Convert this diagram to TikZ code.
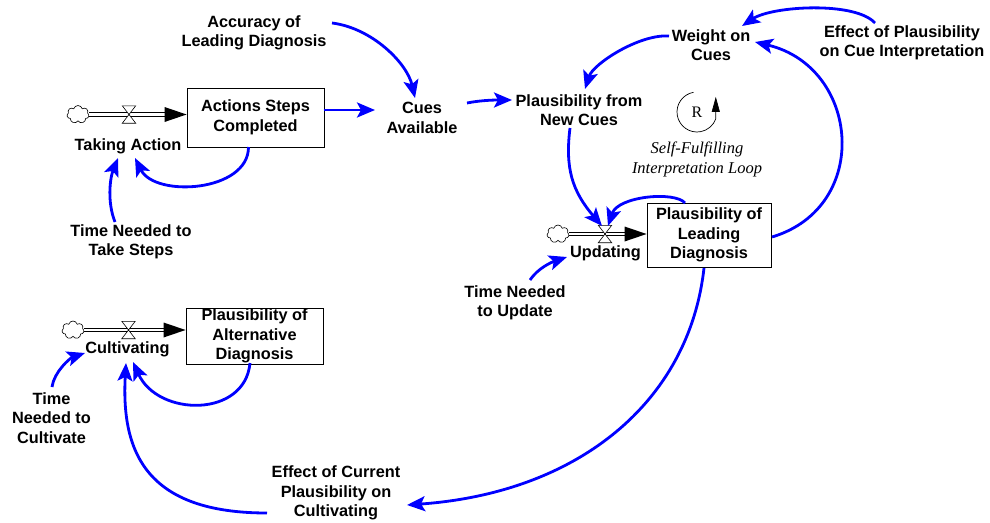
\documentclass[tikz,border=0pt]{standalone}
\usepackage{fontspec}
\setmainfont{Liberation Sans}
\newfontfamily\loopfont{Liberation Serif}
\usetikzlibrary{calc,arrows.meta,shapes.symbols}

\begin{document}
\begin{tikzpicture}[x=1pt, y=-1pt,
    aux/.style={font=\fontsize{16.3}{19.5}\selectfont\bfseries, align=center, inner sep=1pt},
    stock/.style={aux, draw, line width=0.9pt, inner sep=0pt},
    link/.style={blue, line width=2.8pt, -{Stealth[length=18pt,width=15pt,inset=4pt]}},
    pipe/.style={double=white, double distance=2.6pt, line width=0.8pt},
    cloudy/.style={cloud, cloud puffs=7, draw=black, line width=0.6pt, fill=white, minimum width=22pt,
        minimum height=18pt, inner sep=0pt, aspect=1.3},
    valve/.style={minimum width=13pt, minimum height=17pt, inner sep=0pt}]
    \useasboundingbox (0,0) rectangle (990,522);

    % stocks and flows
    \node[stock, minimum width=137pt, minimum height=59pt] (acts) at (255.5,117.5) {Actions Steps\\Completed};
    \node[stock, minimum width=124pt, minimum height=64pt] (lead) at (709,235) {Plausibility of\\Leading\\Diagnosis};
    \node[stock, minimum width=137pt, minimum height=56pt] (alt) at (254.5,336) {Plausibility of\\Alternative\\Diagnosis};
    \node[cloudy] (c1) at (78,114.5) {};
    \node[cloudy] (c2) at (558,234) {};
    \node[cloudy] (c3) at (73,330) {};
    \node[valve] (v1) at (129,114.5) {};
    \node[valve] (v2) at (605,234) {};
    \node[valve] (v3) at (128.5,330) {};
    \foreach \c/\v/\s in {c1/v1/acts, c2/v2/lead, c3/v3/alt} {
        \draw[pipe] (\c.east) -- ($(\c.east -| \s.west)+(-20,0)$);
        \fill ($(\c.east -| \s.west)+(-22,-7.5)$) -- (\c.east -| \s.west)
            -- ($(\c.east -| \s.west)+(-22,7.5)$) -- cycle;
        \draw[fill=white, line width=0.6pt] (\v.north west) -- (\v.north east)
            -- (\v.south west) -- (\v.south east) -- cycle;
    }
    \node[aux] (takeact) at (128,146) {Taking Action};
    \node[aux] (upd) at (605.5,253) {Updating};
    \node[aux] (cult) at (127.5,349) {Cultivating};

    % auxiliaries
    \node[aux] (acc) at (254,33) {Accuracy of\\Leading Diagnosis};
    \node[aux] (cues) at (422,118) {Cues\\Available};
    \node[aux] (pnew) at (579,110) {Plausibility from\\New Cues};
    \node[aux] (weight) at (711,45) {Weight on\\Cues};
    \node[aux] (effcue) at (902,43) {Effect of Plausibility\\on Cue Interpretation};
    \node[aux] (tsteps) at (131,242) {Time Needed to\\Take Steps};
    \node[aux] (tupd) at (515,303) {Time Needed\\to Update};
    \node[aux] (tcult) at (51.5,418) {Time\\Needed to\\Cultivate};
    \node[aux] (effcur) at (336,493) {Effect of Current\\Plausibility on\\Cultivating};

    % loop marker
    \node[font=\fontsize{16}{19}\selectfont\loopfont, inner sep=0pt] (R) at (697,112) {R};
    \draw[line width=0.7pt, -{Triangle[length=15pt,width=8pt]}] ($(R)+(100:20pt)$)
        arc[start angle=100, end angle=340, radius=20pt] -- ++(0pt,22pt);
    \node[font=\fontsize{16.5}{19.5}\selectfont\loopfont\itshape, align=center, inner sep=0pt]
        (looplbl) at (697,159.5) {Self-Fulfilling\\Interpretation Loop};

    % links
    \draw[link] ($(acts)+(68,-7.5)$) -- ($(cues)+(-47,-8)$);
    \draw[link] ($(acc)+(78,-10)$) .. controls +(40,5) and +(-8,-35) .. ($(cues)+(-7,-20)$);
    \draw[link] ($(cues)+(45,-15)$) .. controls +(15,-3) and +(-15,0) .. ($(pnew)+(-67,-10)$);
    \draw[link] ($(pnew)+(-9,18)$) .. controls +(-5,40) and +(-30,-35) .. ($(v2)+(-3,-8)$);
    \draw[link] ($(lead)+(-24,-32)$) .. controls +(-10,-12) and +(10,-30) .. ($(v2)+(3,-8)$);
    \draw[link] ($(lead)+(63,2)$) .. controls +(100,-30) and +(105,25) .. ($(weight)+(44,-3)$);
    \draw[link] ($(weight)+(-42,-9)$) .. controls +(-30,-2) and +(8,-25) .. ($(pnew)+(6,-21)$);
    \draw[link] ($(effcue)+(-27,-20)$) .. controls +(-20,-22) and +(30,-20) .. ($(weight)+(31,-19)$);
    \draw[link] ($(tupd)+(15,-23)$) .. controls +(8,-12) and +(-15,5) .. ($(upd)+(-38.5,4)$);
    \draw[link] ($(lead)+(-5,33)$) .. controls +(-15,135) and +(170,-12) .. ($(effcur)+(71,12)$);
    \draw[link] ($(effcur)+(-69,20)$) .. controls +(-120,0) and +(-5,90) .. ($(cult)+(-1.5,14)$);
    \draw[link] ($(alt)+(-4.5,27)$) .. controls +(-5,55) and +(25,55) .. ($(cult)+(5.5,13)$);
    \draw[link] ($(tcult)+(0.5,-31)$) .. controls +(2,-15) and +(-15,5) .. ($(cult)+(-42.5,4)$);
    \draw[link] ($(acts)+(-7,29.5)$) .. controls +(0,45) and +(20,40) .. ($(takeact)+(7,12)$);
    \draw[link] ($(tsteps)+(-16,-20)$) .. controls +(-8,-20) and +(-8,20) .. ($(takeact)+(-10,12)$);
\end{tikzpicture}
\end{document}
